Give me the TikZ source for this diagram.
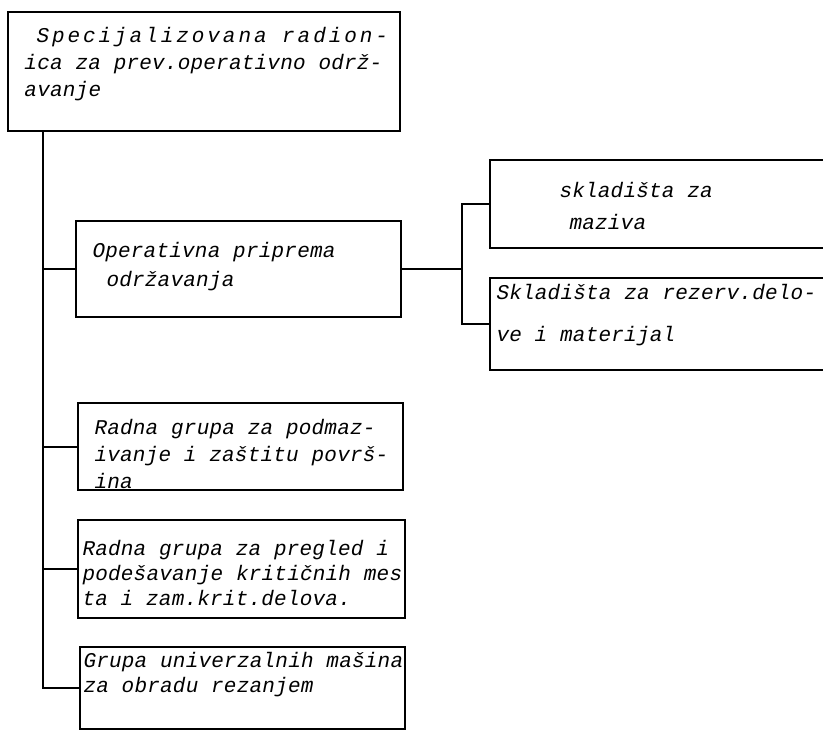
\documentclass[tikz,border=0pt]{standalone}
\usepackage{fontspec}
\usepackage{tikz}
\usetikzlibrary{fit}
\newfontfamily\pisacka[LetterSpace=1]{Liberation Mono}
\newfontfamily\pisackasiroka[LetterSpace=14]{Liberation Mono}
\tikzset{
  orgbox/.style={
    draw=black,
    line width=0.9pt,
    inner sep=0pt
  },
  orgtext/.style={
    font=\pisacka\itshape\fontsize{10.5}{#1}\selectfont,
    align=left,
    inner sep=0pt,
    anchor=base west
  },
  orgtext/.default=14,
  veza/.style={
    line width=1pt,
    draw=black
  }
}

\begin{document}
\begin{tikzpicture}[x=0.5pt,y=-0.5pt]
    \useasboundingbox (0,0) rectangle (823,731);
    \clip (0,0) rectangle (823,731);

    % okviri
    \node[orgbox, fit={(8,12) (400,131)}] (vrh) {};
    \node[orgbox, fit={(76,221) (401,317)}] (priprema) {};
    \node[orgbox, fit={(490,160) (850,248)}] (mazivo) {};
    \node[orgbox, fit={(490,278) (850,370)}] (rezerva) {};
    \node[orgbox, fit={(78,403) (403,490)}] (podmaz) {};
    \node[orgbox, fit={(78,520) (405,618)}] (pregled) {};
    \node[orgbox, fit={(80,647) (405,729)}] (alat) {};

    % tekst (sidro je osnovna linija poslednjeg reda)
    \node[orgtext=13.5] at ([shift={(17,85)}]vrh.north west)
        {\hspace*{6pt}{\pisackasiroka Specijalizovana radion-}\\ica za prev.operativno održ-\\avanje};
    \node[orgtext=14.5] at ([shift={(17,66)}]priprema.north west)
        {Operativna priprema\\\hspace*{7pt}održavanja};
    \node[orgtext=16] at ([shift={(70,70)}]mazivo.north west)
        {skladišta za\\\hspace*{5pt}maziva};
    \node[orgtext=21] at ([shift={(7,64)}]rezerva.north west)
        {Skladišta za rezerv.delo-\\ve i materijal};
    \node[orgtext=13.5] at ([shift={(17,86)}]podmaz.north west)
        {Radna grupa za podmaz-\\ivanje i zaštitu površ-\\ina};
    \node[orgtext=12.5] at ([shift={(5,86)}]pregled.north west)
        {Radna grupa za pregled i\\podešavanje kritičnih mes\\ta i zam.krit.delova.};
    \node[orgtext=12.5] at ([shift={(4,46)}]alat.north west)
        {Grupa univerzalnih mašina\\za obradu rezanjem};

    % veze
    \coordinate (deblo) at (43,131);
    \coordinate (racva) at (462,269);
    \draw[veza] (deblo) |- (alat.west);
    \foreach \grana in {priprema, podmaz, pregled}
        \draw[veza] (deblo |- \grana.west) -- (\grana.west);
    \draw[veza] (priprema.east) -- (racva);
    \draw[veza] (mazivo.west) -| (racva) |- (rezerva.west);
\end{tikzpicture}
\end{document}
